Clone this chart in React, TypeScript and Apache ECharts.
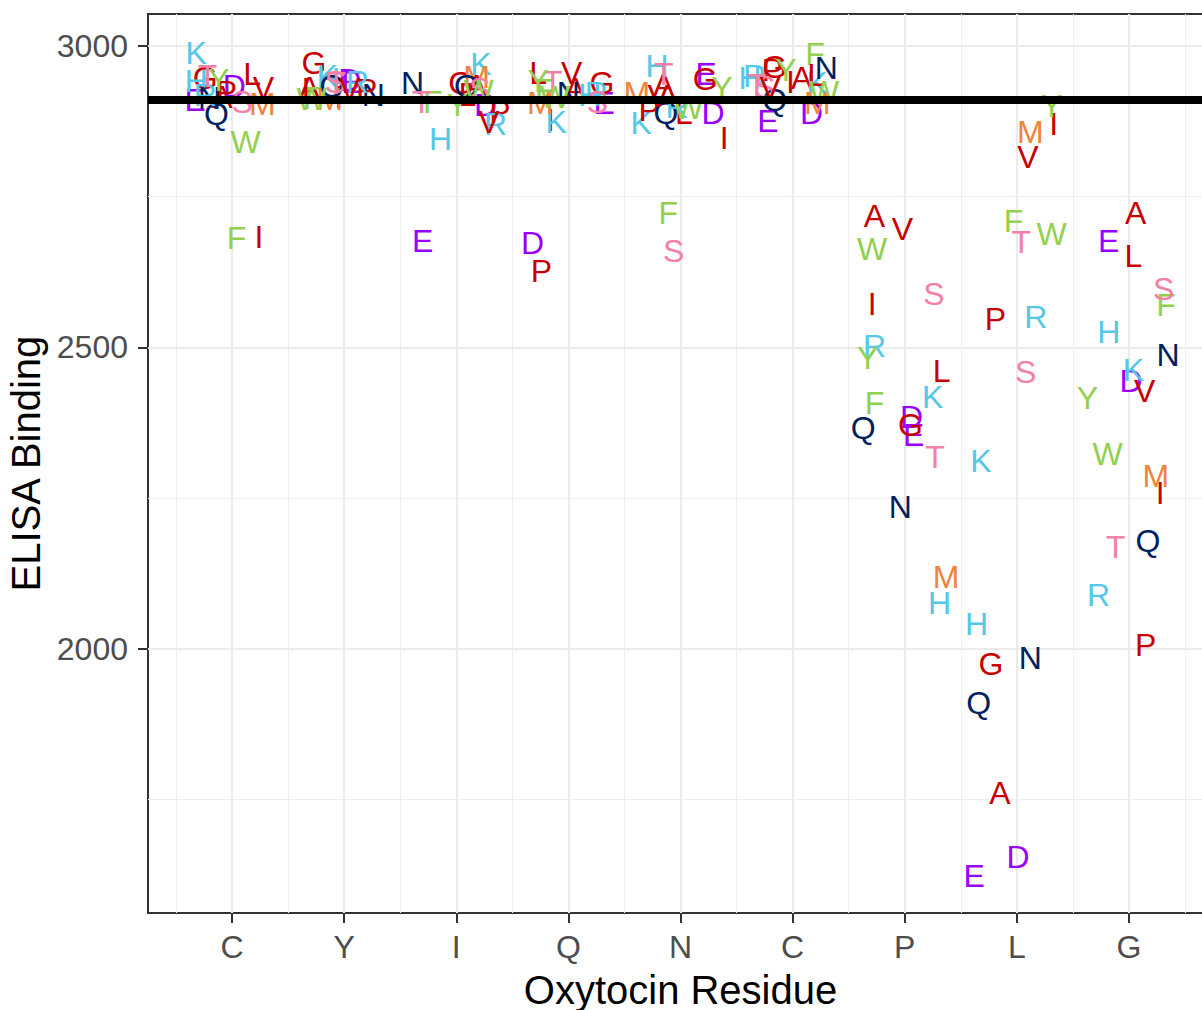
import React, { useEffect, useRef } from "react";
import * as echarts from "echarts";

// Oxytocin sequence, one axis slot per residue
const residueLabels = ["C", "Y", "I", "Q", "N", "C", "P", "L", "G"];
const residuePositions = [1, 2, 3, 4, 5, 6, 7, 8, 9];
const xMinorBreaks = [0.5, 1.5, 2.5, 3.5, 4.5, 5.5, 6.5, 7.5, 8.5, 9.5];
const yMajorBreaks = [2000, 2500, 3000];
const yMinorBreaks = [1750, 2250, 2750];
const wildTypeBinding = 2910;

// Substitutions at each position: letter, jittered x, ELISA binding
const pos1Letters = ["A", "D", "E", "F", "G", "H", "I", "K", "L", "M", "N", "P", "Q", "R", "S", "T", "V", "W", "Y"];
const pos1X = [0.91, 1.02, 0.67, 1.04, 0.76, 0.68, 1.24, 0.68, 1.18, 1.27, 0.8, 0.95, 0.86, 0.76, 1.09, 0.78, 1.28, 1.12, 0.88];
const pos1Binding = [2915, 2934, 2910, 2682, 2947, 2942, 2683, 2988, 2954, 2904, 2914, 2924, 2887, 2919, 2907, 2950, 2930, 2841, 2944];

const pos2Letters = ["A", "D", "E", "F", "G", "H", "I", "K", "L", "M", "N", "P", "Q", "R", "S", "T", "V", "W"];
const pos2X = [1.69, 2.05, 2.07, 1.72, 1.73, 1.86, 1.95, 1.85, 1.7, 1.87, 2.26, 2.2, 1.89, 2.12, 1.92, 1.93, 2.05, 1.71];
const pos2Binding = [2930, 2944, 2940, 2914, 2972, 2945, 2915, 2950, 2928, 2912, 2919, 2927, 2934, 2940, 2940, 2938, 2929, 2912];

const pos3Letters = ["A", "D", "E", "F", "G", "H", "K", "L", "M", "N", "P", "Q", "R", "S", "T", "V", "W", "Y"];
const pos3X = [3.18, 3.26, 2.7, 2.79, 3.04, 2.86, 3.22, 3.1, 3.18, 2.61, 3.39, 3.09, 3.35, 3.21, 2.69, 3.29, 3.2, 3.01];
const pos3Binding = [2934, 2902, 2677, 2907, 2939, 2846, 2970, 2919, 2949, 2939, 2891, 2934, 2871, 2929, 2907, 2874, 2925, 2902];

const pos4Letters = ["A", "D", "E", "F", "G", "H", "I", "K", "L", "M", "N", "P", "R", "S", "T", "V", "W", "Y"];
const pos4X = [4.06, 3.68, 4.32, 3.79, 4.3, 4.19, 3.84, 3.89, 3.73, 3.75, 4.0, 3.76, 4.25, 4.26, 3.86, 4.03, 3.88, 3.73];
const pos4Binding = [2929, 2673, 2905, 2927, 2939, 2919, 2877, 2874, 2955, 2905, 2922, 2627, 2922, 2907, 2940, 2955, 2915, 2942];

const pos5Letters = ["A", "D", "E", "F", "G", "H", "I", "K", "L", "M", "P", "Q", "R", "S", "T", "V", "W", "Y"];
const pos5X = [4.85, 5.29, 5.23, 4.89, 5.22, 4.79, 5.39, 4.65, 5.03, 4.61, 4.72, 4.87, 4.97, 4.94, 4.85, 4.8, 5.07, 5.37];
const pos5Binding = [2935, 2889, 2954, 2723, 2945, 2967, 2847, 2872, 2889, 2922, 2894, 2889, 2899, 2660, 2954, 2917, 2897, 2930];

const pos6Letters = ["A", "D", "E", "F", "G", "H", "I", "K", "L", "M", "N", "P", "Q", "R", "S", "T", "V", "W", "Y"];
const pos6X = [6.08, 6.17, 5.78, 6.2, 5.84, 5.62, 5.98, 6.22, 6.21, 6.22, 6.3, 5.82, 5.84, 5.66, 5.75, 5.68, 5.8, 6.28, 5.94];
const pos6Binding = [2947, 2889, 2876, 2987, 2965, 2947, 2940, 2939, 2952, 2905, 2964, 2960, 2910, 2950, 2932, 2935, 2930, 2924, 2960];

const pos7Letters = ["A", "D", "E", "F", "G", "H", "I", "K", "L", "M", "N", "Q", "R", "S", "T", "V", "W", "Y"];
const pos7X = [6.73, 7.06, 7.08, 6.73, 7.05, 7.31, 6.71, 7.25, 7.33, 7.37, 6.96, 6.63, 6.73, 7.26, 7.27, 6.98, 6.71, 6.67];
const pos7Binding = [2718, 2385, 2355, 2408, 2372, 2076, 2572, 2418, 2461, 2120, 2236, 2367, 2503, 2589, 2319, 2697, 2663, 2483];

const pos8Letters = ["A", "D", "E", "F", "G", "H", "I", "K", "M", "N", "P", "Q", "R", "S", "T", "V", "W", "Y"];
const pos8X = [7.85, 8.01, 7.62, 7.97, 7.77, 7.64, 8.33, 7.68, 8.12, 8.12, 7.81, 7.66, 8.17, 8.08, 8.04, 8.1, 8.31, 8.31];
const pos8Binding = [1761, 1655, 1624, 2710, 1975, 2042, 2871, 2312, 2857, 1985, 2547, 1910, 2551, 2459, 2675, 2816, 2688, 2901];

const pos9Letters = ["A", "D", "E", "F", "H", "I", "K", "L", "M", "N", "P", "Q", "R", "S", "T", "V", "W", "Y"];
const pos9X = [9.06, 9.02, 8.82, 9.33, 8.82, 9.28, 9.04, 9.04, 9.24, 9.35, 9.15, 9.17, 8.73, 9.31, 8.88, 9.14, 8.81, 8.63];
const pos9Binding = [2723, 2444, 2677, 2571, 2526, 2259, 2463, 2652, 2287, 2488, 2007, 2179, 2090, 2597, 2169, 2428, 2323, 2416];

// Colour by side-chain class
const RED = "#C80000";
const ORANGE = "#F0843A";
const GREEN = "#92D050";
const CYAN = "#55C8E8";
const PURPLE = "#9A00FF";
const NAVY = "#002060";
const PINK = "#F380A8";
const letterColors: Record<string, string> = {
  A: RED, G: RED, I: RED, L: RED, P: RED, V: RED,
  M: ORANGE,
  F: GREEN, W: GREEN, Y: GREEN,
  H: CYAN, K: CYAN, R: CYAN,
  D: PURPLE, E: PURPLE,
  N: NAVY, Q: NAVY,
  S: PINK, T: PINK,
};

const FONT = '"Liberation Sans", Arial, Helvetica, sans-serif';

const groups = [
  [pos1Letters, pos1X, pos1Binding],
  [pos2Letters, pos2X, pos2Binding],
  [pos3Letters, pos3X, pos3Binding],
  [pos4Letters, pos4X, pos4Binding],
  [pos5Letters, pos5X, pos5Binding],
  [pos6Letters, pos6X, pos6Binding],
  [pos7Letters, pos7X, pos7Binding],
  [pos8Letters, pos8X, pos8Binding],
  [pos9Letters, pos9X, pos9Binding],
] as [string[], number[], number[]][];

function buildPoints() {
  const pts: any[] = [];
  groups.forEach(([letters, xs, ys]) => {
    letters.forEach((l, i) => {
      pts.push({
        name: l,
        value: [xs[i], ys[i]],
        label: { color: letterColors[l] },
      });
    });
  });
  return pts;
}

const MAJOR_GRID = { color: "#EBEBEB", width: 2.2, type: "solid" as const };
const MINOR_GRID = { color: "#EFEFEF", width: 1.1, type: "solid" as const };

export default function App() {
  const ref = useRef<HTMLDivElement>(null);

  useEffect(() => {
    document.body.style.overflow = "hidden";
    const chart = echarts.init(ref.current!, null, { renderer: "svg" });

    const gridLines = [
      ...xMinorBreaks.map((v) => ({ xAxis: v, lineStyle: MINOR_GRID })),
      ...yMinorBreaks.map((v) => ({ yAxis: v, lineStyle: MINOR_GRID })),
      ...residuePositions.map((v) => ({ xAxis: v, lineStyle: MAJOR_GRID })),
      ...yMajorBreaks.map((v) => ({ yAxis: v, lineStyle: MAJOR_GRID })),
    ];

    chart.setOption({
      animation: false,
      backgroundColor: "#FFFFFF",
      grid: {
        left: 148,
        right: 11,
        top: 14,
        bottom: 97,
        show: true,
        borderColor: "#333333",
        borderWidth: 2,
        backgroundColor: "transparent",
        containLabel: false,
        outerBoundsMode: "none",
      },
      xAxis: {
        type: "value",
        min: 0.25,
        max: 9.75,
        axisLine: { show: false },
        axisTick: {
          show: true,
          customValues: residuePositions,
          length: 10,
          lineStyle: { color: "#333333", width: 2 },
        },
        axisLabel: {
          customValues: residuePositions,
          formatter: (v: number) => residueLabels[Math.round(v) - 1] ?? "",
          fontSize: 32,
          color: "#4D4D4D",
          margin: 18,
          fontFamily: FONT,
        },
        splitLine: { show: false },
        name: "Oxytocin Residue",
        nameLocation: "middle",
        nameGap: 57,
        nameTextStyle: { fontSize: 40, color: "#000000", fontFamily: FONT },
      },
      yAxis: {
        type: "value",
        min: 1562,
        max: 3053,
        axisLine: { show: false },
        axisTick: {
          show: true,
          customValues: yMajorBreaks,
          length: 10,
          lineStyle: { color: "#333333", width: 2 },
        },
        axisLabel: {
          customValues: yMajorBreaks,
          formatter: (v: number) => String(v),
          fontSize: 32,
          color: "#4D4D4D",
          margin: 20,
          fontFamily: FONT,
        },
        splitLine: { show: false },
        name: "ELISA Binding",
        nameLocation: "middle",
        nameRotate: 90,
        nameGap: 91,
        nameTextStyle: { fontSize: 40, color: "#000000", fontFamily: FONT },
      },
      series: [
        {
          // panel grid, kept beneath the letters
          type: "scatter",
          z: 1,
          silent: true,
          symbolSize: 0,
          data: [[-5, 0]],
          markLine: {
            z: 1,
            silent: true,
            symbol: ["none", "none"],
            label: { show: false },
            emphasis: { disabled: true },
            data: gridLines,
          },
        },
        {
          type: "scatter",
          z: 3,
          silent: true,
          symbolSize: 0,
          itemStyle: { color: "rgba(0,0,0,0)", opacity: 1 },
          label: {
            show: true,
            position: "inside",
            formatter: "{b}",
            fontSize: 32,
            fontFamily: FONT,
            opacity: 1,
          },
          emphasis: { disabled: true },
          data: buildPoints(),
        },
        {
          // wild-type reference level, drawn over the letters
          type: "scatter",
          z: 10,
          silent: true,
          symbolSize: 0,
          data: [[-5, 0]],
          markLine: {
            z: 10,
            silent: true,
            symbol: ["none", "none"],
            label: { show: false },
            emphasis: { disabled: true },
            data: [{ yAxis: wildTypeBinding, lineStyle: { color: "#000000", width: 8, type: "solid" } }],
          },
        },
      ],
    });

    return () => {
      chart.dispose();
    };
  }, []);

  return (
    <div
      ref={ref}
      style={{ position: "absolute", left: 0, top: 0, width: 1224, height: 1010 }}
    />
  );
}
